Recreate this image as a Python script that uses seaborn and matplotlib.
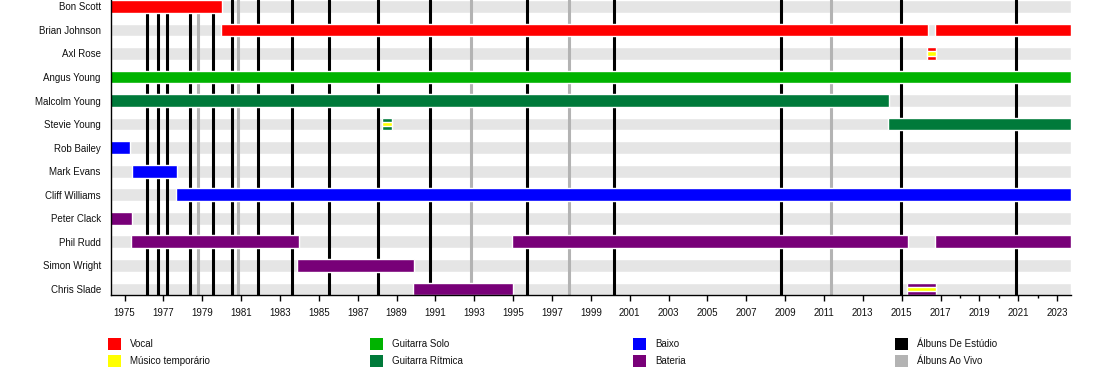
import numpy as np
import pandas as pd
import seaborn as sns
import matplotlib
matplotlib.use("Agg")
import matplotlib.pyplot as plt
from matplotlib.patches import Rectangle

# Chart range (years)
START = 1974.28
END = 2023.72

members = ["Bon Scott", "Brian Johnson", "Axl Rose", "Angus Young", "Malcolm Young",
           "Stevie Young", "Rob Bailey", "Mark Evans", "Cliff Williams", "Peter Clack",
           "Phil Rudd", "Simon Wright", "Chris Slade"]

# one entry per stint
stint_member = ["Bon Scott", "Brian Johnson", "Brian Johnson", "Axl Rose", "Angus Young",
                "Malcolm Young", "Stevie Young", "Stevie Young", "Rob Bailey", "Mark Evans",
                "Cliff Williams", "Peter Clack", "Phil Rudd", "Phil Rudd", "Phil Rudd",
                "Simon Wright", "Chris Slade", "Chris Slade"]
stint_start = [1974.0, 1979.98, 2016.7, 2016.3, 1974.0,
               1974.0, 1988.27, 2014.3, 1974.0, 1975.36,
               1977.63, 1974.0, 1975.32, 1994.94, 2016.7,
               1983.9, 1989.85, 2015.28]
stint_end = [1980.0, 2016.35, END, 2016.75, END,
             2014.34, 1988.75, END, 1975.26, 1977.68,
             END, 1975.36, 1983.96, 2015.32, END,
             1989.9, 1995.0, 2016.76]
stint_role = ["Vocal", "Vocal", "Vocal", "Vocal", "Guitarra Solo",
              "Guitarra Rítmica", "Guitarra Rítmica", "Guitarra Rítmica", "Baixo", "Baixo",
              "Baixo", "Bateria", "Bateria", "Bateria", "Bateria",
              "Bateria", "Bateria", "Bateria"]
stint_temp = [False, False, False, True, False,
              False, True, False, False, False,
              False, False, False, False, False,
              False, False, True]

studio_albums = [1976.17, 1976.74, 1977.20, 1978.39, 1979.57, 1980.54, 1981.88, 1983.64,
                 1985.51, 1988.06, 1990.74, 1995.73, 2000.18, 2008.80, 2014.96, 2020.88]
live_albums = [1978.80, 1980.86, 1992.85, 1997.89, 2011.38]

role_colors = {
    "Vocal": "#FF0000",
    "Guitarra Solo": "#00B300",
    "Guitarra Rítmica": "#007A3A",
    "Baixo": "#0000FF",
    "Bateria": "#780078",
}
TEMP_COLOR = "#FFFF00"
STUDIO_COLOR = "#000000"
LIVE_COLOR = "#B3B3B3"
BAND_COLOR = "#E5E5E5"

stints = pd.DataFrame({"member": stint_member, "start": stint_start, "end": stint_end,
                       "role": stint_role, "temp": stint_temp})
stints["row"] = stints["member"].map({m: i for i, m in enumerate(members)})

sns.set_theme(style="white")
plt.rcParams["font.family"] = ["Liberation Sans", "DejaVu Sans"]

fig = plt.figure(figsize=(11, 3.75), dpi=100)
ax = fig.add_axes([0.1005, 0.2125, 0.8732, 0.7875])

BAR_H = 0.54
rows = np.arange(len(members))

# light gray background bands
ax.barh(rows, END - START, left=START, height=BAR_H, color=BAND_COLOR, zorder=1)

# album lines
for x in live_albums:
    ax.axvline(x, color=LIVE_COLOR, linewidth=2.2, zorder=2)
for x in studio_albums:
    ax.axvline(x, color=STUDIO_COLOR, linewidth=2.2, zorder=2)

# member bars
ax.barh(stints["row"], stints["end"] - stints["start"], left=stints["start"],
        height=BAR_H, color=stints["role"].map(role_colors), zorder=3)
temp = stints[stints["temp"]]
ax.barh(temp["row"], temp["end"] - temp["start"], left=temp["start"],
        height=BAR_H * 0.36, color=TEMP_COLOR, zorder=4)

ax.set_xlim(START, END)
ax.set_ylim(len(members) - 1 + BAR_H / 2, -BAR_H / 2)

ax.set_yticks(rows)
ax.set_yticklabels(members)
ax.set_xticks(range(1975, 2024, 2))
ax.set_xticks([2018, 2020, 2022], minor=True)
ax.tick_params(axis="y", length=0, pad=7, labelsize=7, colors="#111111")
ax.tick_params(axis="x", which="major", bottom=True, length=4, width=1, color="black",
               labelsize=7, pad=5, labelcolor="#111111")
ax.tick_params(axis="x", which="minor", bottom=True, length=2.5, width=1, color="black")

for side in ["top", "right"]:
    ax.spines[side].set_visible(False)
for side in ["left", "bottom"]:
    ax.spines[side].set_color("black")
    ax.spines[side].set_linewidth(1)
    ax.spines[side].set_zorder(5)
ax.grid(False)

# legend, laid out in four columns below the chart
legend_items = [("Vocal", role_colors["Vocal"]), ("Músico temporário", TEMP_COLOR),
                ("Guitarra Solo", role_colors["Guitarra Solo"]),
                ("Guitarra Rítmica", role_colors["Guitarra Rítmica"]),
                ("Baixo", role_colors["Baixo"]), ("Bateria", role_colors["Bateria"]),
                ("Álbuns De Estúdio", STUDIO_COLOR), ("Álbuns Ao Vivo", LIVE_COLOR)]
col_x = [108, 370, 633, 895]
row_top = [337.5, 354.5]
W, H = 1100.0, 375.0
for i, (label, color) in enumerate(legend_items):
    cx = col_x[i // 2]
    ry = row_top[i % 2]
    fig.add_artist(Rectangle((cx / W, 1 - (ry + 12.3) / H), 12.7 / W, 12.3 / H,
                             transform=fig.transFigure, facecolor=color, edgecolor="none"))
    fig.text((cx + 22) / W, 1 - (ry + 6.5) / H, label, fontsize=7, va="center",
             ha="left", color="#111111")

fig.savefig("out.png", dpi=100)
